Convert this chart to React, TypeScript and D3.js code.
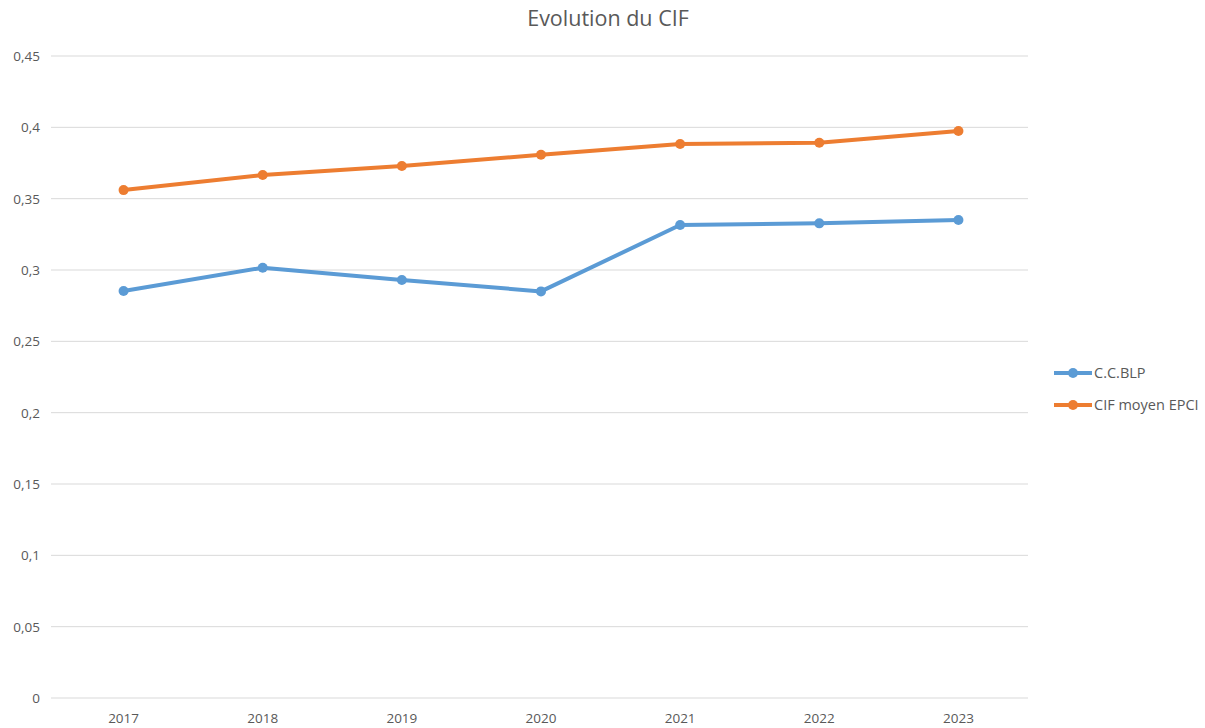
import { useEffect, useRef } from 'react';
import * as d3 from 'd3';

const width = 1205;
const height = 728;

const years = ['2017', '2018', '2019', '2020', '2021', '2022', '2023'];
const ccblp = [0.2853, 0.3016, 0.293, 0.285, 0.3315, 0.3327, 0.335];
const cifMoyen = [0.356, 0.3666, 0.3729, 0.3808, 0.3883, 0.3892, 0.3974];
const yTicks = [0, 0.05, 0.1, 0.15, 0.2, 0.25, 0.3, 0.35, 0.4, 0.45];

const seriesNames = ['C.C.BLP', 'CIF moyen EPCI'];
const seriesColors = ['#5b9bd5', '#ed7d31'];

const fontFamily = '"Open Sans", "Liberation Sans", sans-serif';

export default function App() {
    const ref = useRef<SVGSVGElement>(null);

    useEffect(() => {
        const svg = d3.select(ref.current);
        svg.selectAll('*').remove();

        const x = d3.scaleBand().domain(years).range([54, 1028]);
        const y = d3.scaleLinear().domain([0, 0.45]).range([698, 56]);
        const cx = (d: string) => (x(d) ?? 0) + x.bandwidth() / 2;

        svg.append('rect').attr('width', width).attr('height', height).attr('fill', '#fff');

        // grid
        svg.append('g')
            .selectAll('line')
            .data(yTicks)
            .join('line')
            .attr('x1', 51)
            .attr('x2', 1028)
            .attr('y1', d => y(d))
            .attr('y2', d => y(d))
            .attr('stroke', '#d9d9d9')
            .attr('stroke-width', 1);

        const fmt = (v: number) => String(+v.toFixed(2)).replace('.', ',');

        svg.append('g')
            .selectAll('text')
            .data(yTicks)
            .join('text')
            .attr('x', 40)
            .attr('y', d => y(d) + 5)
            .attr('text-anchor', 'end')
            .attr('font-family', fontFamily)
            .attr('font-size', 13.5)
            .attr('fill', '#595959')
            .text(d => fmt(d));

        svg.append('g')
            .selectAll('text')
            .data(years)
            .join('text')
            .attr('x', d => cx(d))
            .attr('y', 723)
            .attr('text-anchor', 'middle')
            .attr('font-family', fontFamily)
            .attr('font-size', 13.5)
            .attr('fill', '#595959')
            .text(d => d);

        // title
        svg.append('text')
            .attr('x', 608)
            .attr('y', 26)
            .attr('text-anchor', 'middle')
            .attr('font-family', fontFamily)
            .attr('font-size', 21.5)
            .attr('fill', '#595959')
            .text('Evolution du CIF');

        const series = [ccblp, cifMoyen];
        const line = d3.line<number>()
            .x((_, i) => cx(years[i]))
            .y(d => y(d));

        series.forEach((vals, s) => {
            const g = svg.append('g');
            g.append('path')
                .attr('d', line(vals))
                .attr('fill', 'none')
                .attr('stroke', seriesColors[s])
                .attr('stroke-width', 4)
                .attr('stroke-linejoin', 'round')
                .attr('stroke-linecap', 'round');
            g.selectAll('circle')
                .data(vals)
                .join('circle')
                .attr('cx', (_, i) => cx(years[i]))
                .attr('cy', d => y(d))
                .attr('r', 5)
                .attr('fill', seriesColors[s]);
        });

        // legend
        const legend = svg.append('g');
        seriesNames.forEach((name, i) => {
            const ly = 373 + i * 32;
            legend.append('line')
                .attr('x1', 1054)
                .attr('x2', 1092)
                .attr('y1', ly)
                .attr('y2', ly)
                .attr('stroke', seriesColors[i])
                .attr('stroke-width', 4);
            legend.append('circle')
                .attr('cx', 1073)
                .attr('cy', ly)
                .attr('r', 5)
                .attr('fill', seriesColors[i]);
            legend.append('text')
                .attr('x', 1094)
                .attr('y', ly + 5)
                .attr('font-family', fontFamily)
                .attr('font-size', 14.5)
                .attr('fill', '#595959')
                .text(name);
        });
    }, []);

    return (
        <svg
            ref={ref}
            width={width}
            height={height}
            style={{ position: 'absolute', left: 0, top: 0 }}
        />
    );
}
